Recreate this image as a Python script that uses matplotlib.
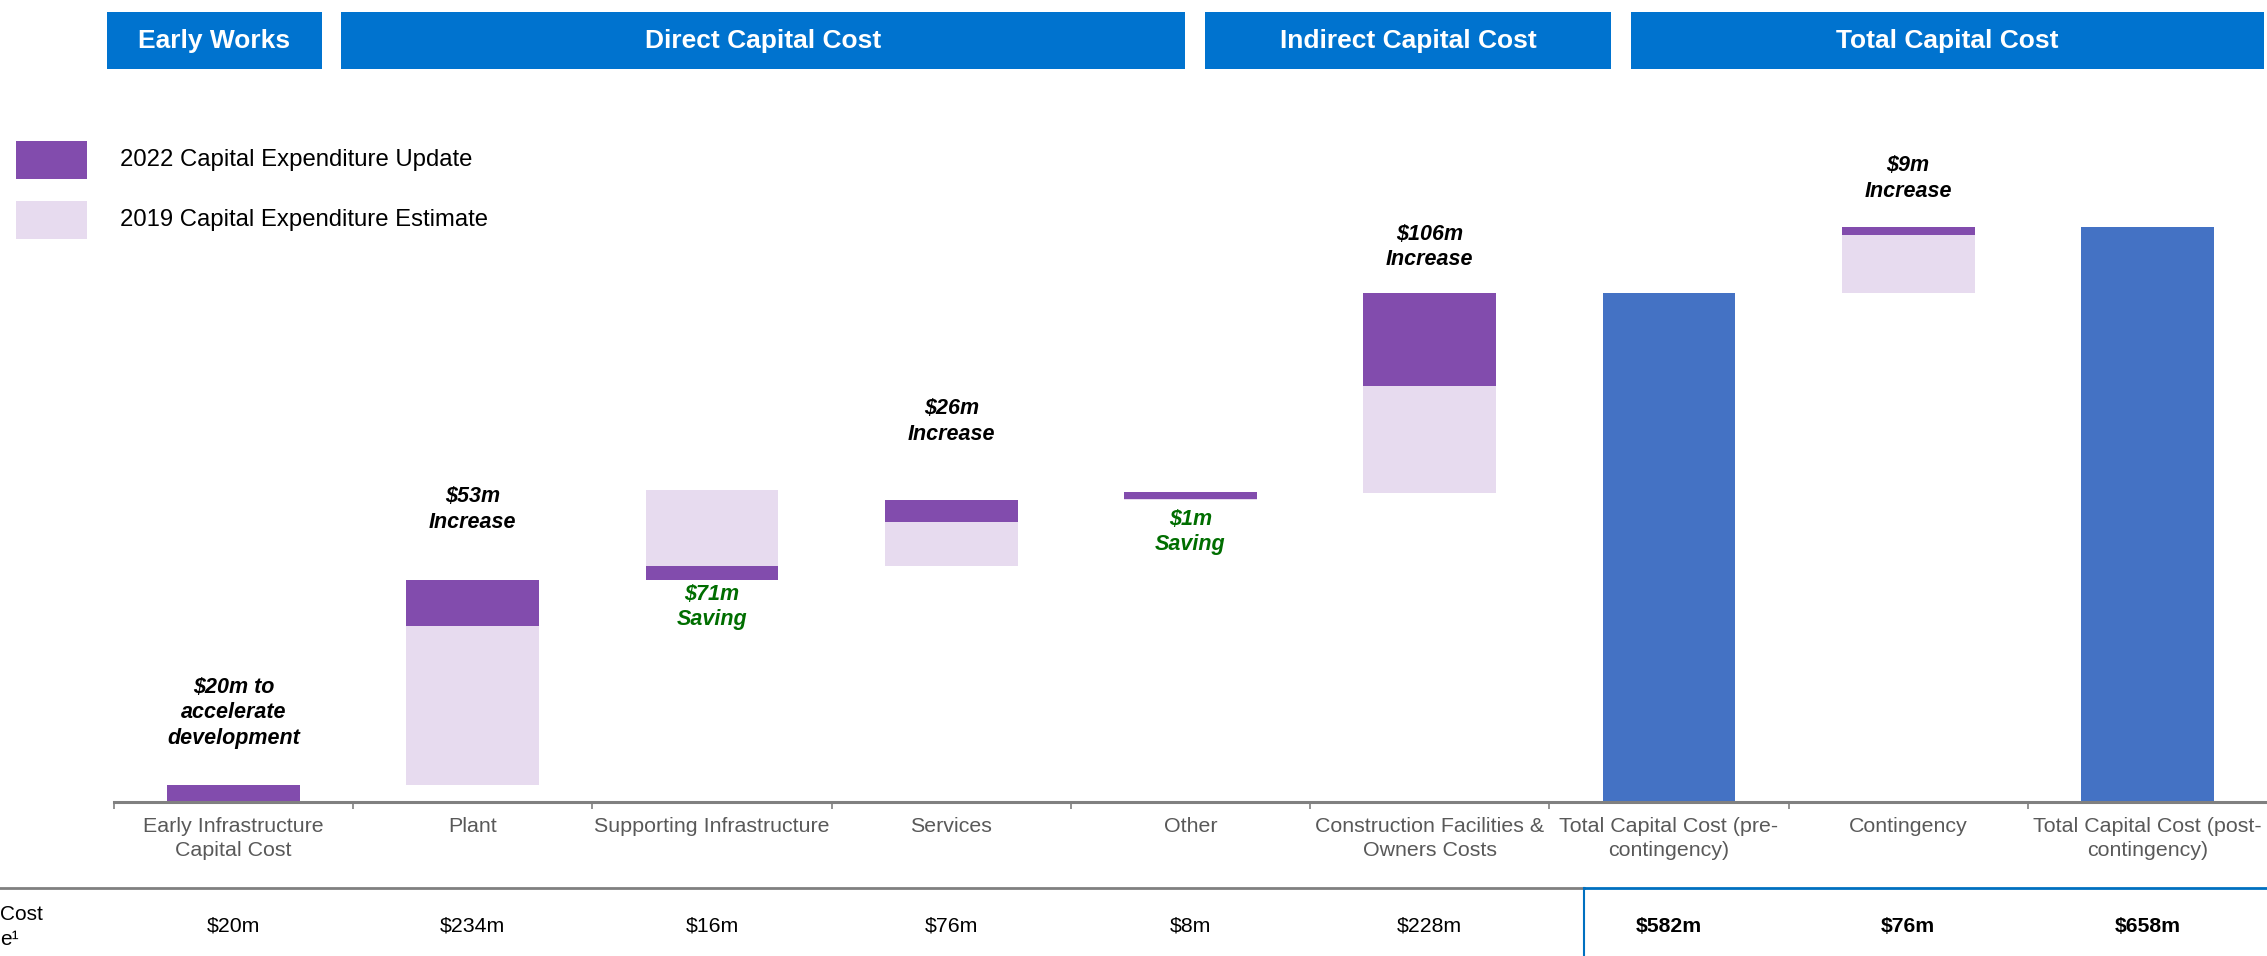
import matplotlib
matplotlib.use("Agg")
import matplotlib.pyplot as plt
import matplotlib.transforms as mtransforms
from matplotlib.patches import Rectangle
from matplotlib.lines import Line2D
import numpy as np

plt.rcParams['font.family'] = ['Liberation Sans', 'DejaVu Sans']

# data (US$m)
categories = ["Early Infrastructure\nCapital Cost", "Plant", "Supporting Infrastructure",
              "Services", "Other", "Construction Facilities &\nOwners Costs",
              "Total Capital Cost (pre-\ncontingency)", "Contingency",
              "Total Capital Cost (post-\ncontingency)"]
cost_2022 = [20, 234, 16, 76, 8, 228, 582, 76, 658]
# segments as drawn in the chart
light_seg = [0, 181, 87, 50, 1, 122, 0, 67, 0]     # 2019 estimate block
purple_seg = [20, 53, 16, 26, 8, 106, 0, 9, 0]     # 2022 update block
light_on_top = [False, False, True, False, False, False, False, False, False]
is_total = [False, False, False, False, False, False, True, False, True]
notes = ["$20m to\naccelerate\ndevelopment", "$53m\nIncrease", "$71m\nSaving",
         "$26m\nIncrease", "$1m\nSaving", "$106m\nIncrease", "", "$9m\nIncrease", ""]
note_y = [102, 335, 223, 435, 309, 635, 0, 713, 0]
note_saving = [False, False, True, False, True, False, False, False, False]
table_vals = ["$20m", "$234m", "$16m", "$76m", "$8m", "$228m", "$582m", "$76m", "$658m"]
headers = ["Early Works", "Direct Capital Cost", "Indirect Capital Cost", "Total Capital Cost"]
header_px = [(107, 322), (341, 1185), (1205, 1611), (1631, 2264)]

PURPLE = '#824CAD'
LIGHT = '#E7DBEF'
BLUE = '#4472C4'
HEAD = '#0073CF'
GREEN = '#006E00'
GREY = '#808080'

W, H = 2267, 956
fig = plt.figure(figsize=(W / 100, H / 100), dpi=100)

def fy(py):
    return 1 - py / H

# waterfall bases
base = np.concatenate([[0], np.cumsum(cost_2022[:5])]).tolist() + [0, cost_2022[6], 0]

ax = fig.add_axes([114 / W, fy(802), (W - 114) / W, (802 - 100) / H])
x = np.arange(len(categories))
bw = 0.555
for i in x:
    if is_total[i]:
        ax.bar(i, cost_2022[i], width=bw, color=BLUE)
        continue
    if light_on_top[i]:
        ax.bar(i, purple_seg[i], bottom=base[i], width=bw, color=PURPLE)
        ax.bar(i, light_seg[i], bottom=base[i] + purple_seg[i], width=bw, color=LIGHT)
    else:
        if light_seg[i] > 0:
            ax.bar(i, light_seg[i], bottom=base[i], width=bw, color=LIGHT)
        ax.bar(i, purple_seg[i], bottom=base[i] + light_seg[i], width=bw, color=PURPLE)

for i in x:
    if notes[i]:
        ax.text(i, note_y[i], notes[i], ha='center', va='center', fontsize=15.5,
                fontweight='bold', style='italic', linespacing=1.3,
                color=GREEN if note_saving[i] else 'black')

ax.set_xlim(-0.5, 8.5)
ax.set_ylim(0, 702 / 0.874)
ax.set_yticks([])
for s in ['top', 'left', 'right']:
    ax.spines[s].set_visible(False)
ax.spines['bottom'].set_color(GREY)
ax.spines['bottom'].set_linewidth(2.2)
ax.set_xticks(x)
ax.set_xticklabels(categories, fontsize=15.4, color='#595959', linespacing=1.32)
ax.tick_params(axis='x', which='major', length=0, pad=11)
ax.set_xticks(np.arange(-0.5, 8.0, 1.0), minor=True)
ax.tick_params(axis='x', which='minor', length=5, width=1.2, color=GREY)

# bottom table
fig.add_artist(Line2D([0, 1584 / W], [fy(888)] * 2, color=GREY, lw=2))
fig.add_artist(Line2D([1584 / W, 1], [fy(888)] * 2, color='#0070C0', lw=2))
fig.add_artist(Line2D([1584 / W] * 2, [fy(888), 0], color='#0070C0', lw=1.5))
trans = mtransforms.blended_transform_factory(ax.transData, fig.transFigure)
for i in x:
    bold = i >= 6
    ax.text(i, fy(926), table_vals[i], transform=trans, ha='center', va='center',
            fontsize=15.3, fontweight='bold' if bold else 'normal', color='black')
fig.text(0, fy(927), "Cost\ne\u00b9", ha='left', va='center', fontsize=15, linespacing=1.35)

# header boxes
for name, (x0, x1) in zip(headers, header_px):
    fig.add_artist(Rectangle((x0 / W, fy(69)), (x1 - x0) / W, 57 / H,
                             transform=fig.transFigure, color=HEAD, lw=0))
    fig.text((x0 + x1) / 2 / W, fy(41), name, ha='center', va='center',
             fontsize=19, fontweight='bold', color='white')

# legend
fig.add_artist(Rectangle((16 / W, fy(179)), 71 / W, 38 / H, transform=fig.transFigure,
                         color=PURPLE, lw=0))
fig.add_artist(Rectangle((16 / W, fy(239)), 71 / W, 38 / H, transform=fig.transFigure,
                         color=LIGHT, lw=0))
fig.text(120 / W, fy(160), "2022 Capital Expenditure Update", ha='left', va='center', fontsize=17.2)
fig.text(120 / W, fy(220), "2019 Capital Expenditure Estimate", ha='left', va='center', fontsize=17.2)

fig.savefig("out.png", dpi=100)
